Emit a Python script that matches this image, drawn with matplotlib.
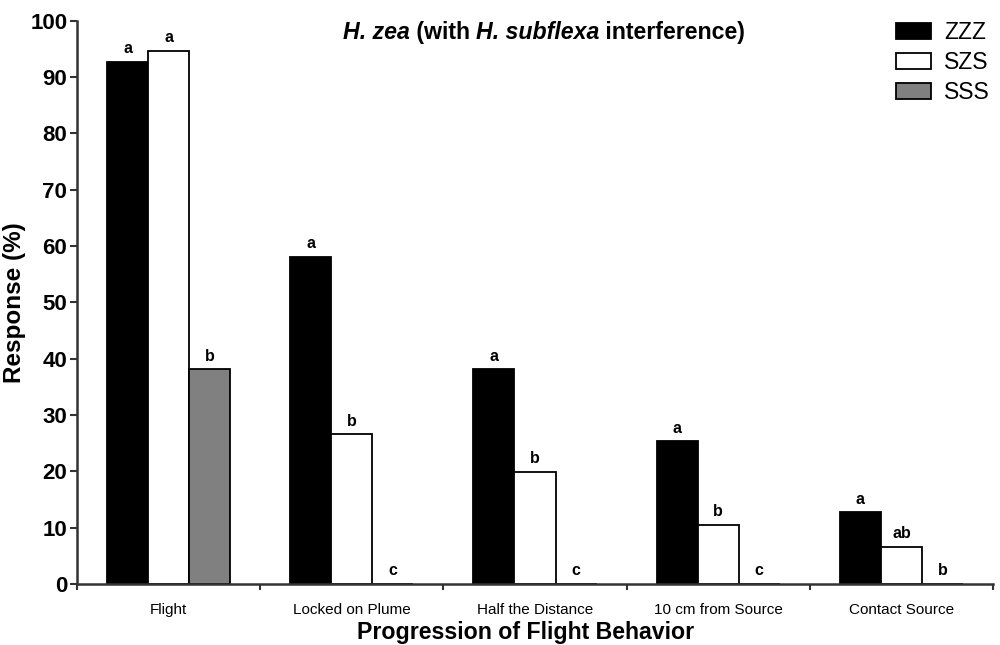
import matplotlib
matplotlib.use("Agg")
import matplotlib.pyplot as plt
import numpy as np
from matplotlib.offsetbox import TextArea, HPacker, AnchoredOffsetbox

categories = ["Flight", "Locked on Plume", "Half the Distance", "10 cm from Source", "Contact Source"]
series_names = ["ZZZ", "SZS", "SSS"]
zzz = [92.7, 58.1, 38.1, 25.3, 12.7]
szs = [94.6, 26.6, 19.9, 10.5, 6.6]
sss = [38.1, 0, 0, 0, 0]
letters_zzz = ["a", "a", "a", "a", "a"]
letters_szs = ["a", "b", "b", "b", "ab"]
letters_sss = ["b", "c", "c", "c", "b"]

plt.rcParams['font.family'] = ['Liberation Sans', 'DejaVu Sans']

fig = plt.figure(figsize=(10, 6.45), dpi=100)
ax = fig.add_axes([0.077, 0.0946, 0.916, 0.8734])

x = np.arange(len(categories))
w = 0.224
colors = ["black", "white", "#808080"]
all_vals = [zzz, szs, sss]
all_letters = [letters_zzz, letters_szs, letters_sss]
for i, (vals, col, name, lets) in enumerate(zip(all_vals, colors, series_names, all_letters)):
    pos = x + (i - 1) * w
    ax.bar(pos, vals, width=w, color=col, edgecolor="black", linewidth=1.3, label=name, zorder=2)
    for p, v, l in zip(pos, vals, lets):
        ax.text(p, v + 1.0, l, ha="center", va="bottom", fontsize=11.5, fontweight="bold")

ax.set_xlim(-0.5, 4.5)
ax.set_ylim(0, 100)
ax.set_yticks(range(0, 101, 10))
ax.set_xticks(x)
ax.set_xticklabels(categories, fontsize=11)
ax.set_xticks(np.arange(-0.5, 5.0, 1.0), minor=True)
ax.tick_params(axis="x", which="major", length=0, pad=14)
ax.tick_params(axis="x", which="minor", length=4, width=1.5, color="#333333", direction="out")
ax.tick_params(axis="y", length=5, width=1.5, color="#333333", labelsize=16, pad=2)
for lab in ax.get_yticklabels():
    lab.set_fontweight("bold")
for s in ["top", "right"]:
    ax.spines[s].set_visible(False)
for s in ["left", "bottom"]:
    ax.spines[s].set_linewidth(1.8)
    ax.spines[s].set_color("#333333")
    ax.spines[s].set_zorder(3)

ax.set_ylabel("Response (%)", fontsize=17.5, fontweight="bold")
ax.yaxis.set_label_coords(-0.0557, 0.5)
ax.set_xlabel("Progression of Flight Behavior", fontsize=16.7, fontweight="bold", va="center")
ax.xaxis.set_label_coords(0.49, -0.087)

# Title with mixed italic
parts = [("H. zea", "italic"), (" (with ", "normal"), ("H. subflexa", "italic"), (" interference)", "normal")]
areas = [TextArea(t, textprops=dict(fontsize=16.7, fontweight="bold", fontstyle=st)) for t, st in parts]
box = HPacker(children=areas, align="baseline", pad=0, sep=0)
anch = AnchoredOffsetbox(loc="center", child=box, pad=0, frameon=False,
                         bbox_to_anchor=(0.544, 0.95), bbox_transform=fig.transFigure, borderpad=0)
fig.add_artist(anch)

leg = ax.legend(loc="upper right", bbox_to_anchor=(1.001, 0.985), bbox_transform=fig.transFigure,
                frameon=False, fontsize=16.5, handlelength=1.55, handleheight=0.68,
                labelspacing=0.3, handletextpad=0.55, borderpad=0)

fig.savefig("out.png", dpi=100)
